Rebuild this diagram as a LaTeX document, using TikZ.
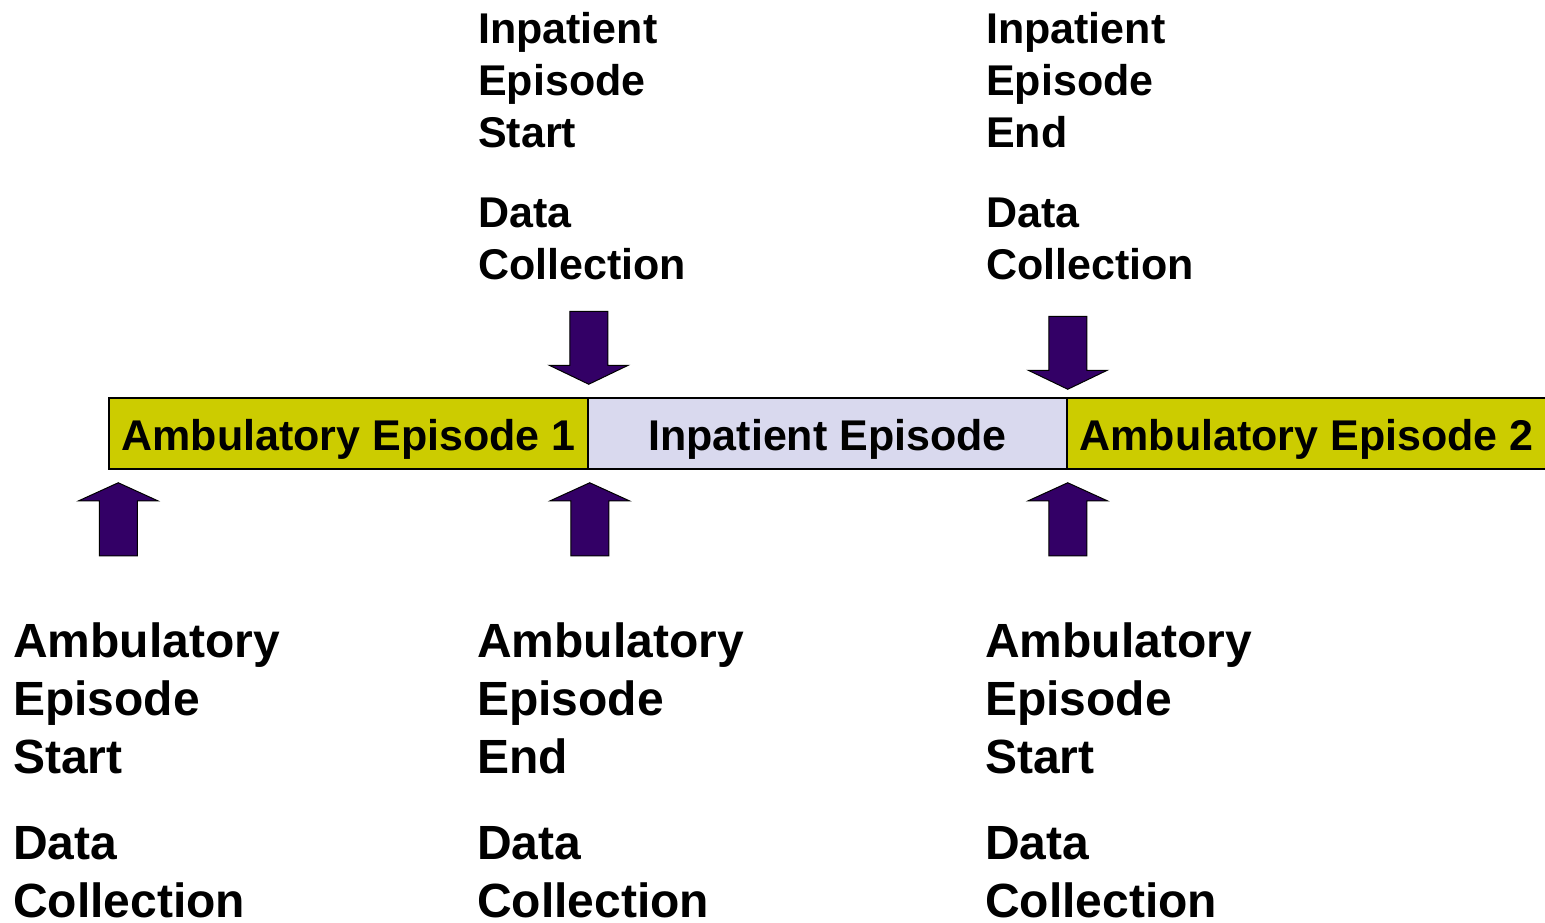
\documentclass[tikz,border=0pt]{standalone}
\usepackage{fontspec}
\setmainfont{Liberation Sans}
\usetikzlibrary{calc}
\definecolor{ambyellow}{RGB}{204,204,0}
\definecolor{inplav}{RGB}{217,217,238}
\definecolor{arrowpurple}{RGB}{51,0,102}
\tikzset{
  episode/.style={draw=black, line width=1.5pt, minimum width=479pt, minimum height=71pt,
    inner sep=0pt, text height=33pt, text depth=0pt, font=\fontsize{43}{52}\selectfont\bfseries},
  blockarrow/.style={fill=arrowpurple, draw=black, line width=1pt, line join=miter},
  downarrow/.pic={\path[blockarrow] (0,0) -- (-39.5,-19) -- (-19,-19) -- (-19,-73) -- (19,-73) -- (19,-19) -- (39.5,-19) -- cycle;},
  uparrow/.pic={\path[blockarrow] (0,0) -- (-39.5,18) -- (-19,18) -- (-19,73) -- (19,73) -- (19,18) -- (39.5,18) -- cycle;},
  toplabel/.style={anchor=north west, inner sep=0pt, align=left, font=\fontsize{43}{52}\selectfont\bfseries},
  botlabel/.style={anchor=north west, inner sep=0pt, align=left, font=\fontsize{48}{58}\selectfont\bfseries}
}
\begin{document}
\begin{tikzpicture}[x=1pt, y=-1pt]
\useasboundingbox (0,0) rectangle (1545,922);
% bar
\node[episode, fill=ambyellow] (a1) at (348.5,433.5) {Ambulatory Episode 1};
\node[episode, fill=inplav] (ip) at (827.5,433.5) {Inpatient Episode};
\node[episode, fill=ambyellow] (a2) at (1306.5,433.5) {Ambulatory Episode 2};
% arrow tips
\coordinate (d1) at ($(a1.north east)+(0,-13)$);
\coordinate (d2) at ($(ip.north east)+(0,-8)$);
\coordinate (u1) at ($(a1.south west)+(10,13)$);
\coordinate (u2) at ($(a1.south east)+(1,13)$);
\coordinate (u3) at ($(ip.south east)+(0,13)$);
\pic at (d1) {downarrow};
\pic at (d2) {downarrow};
\pic at (u1) {uparrow};
\pic at (u2) {uparrow};
\pic at (u3) {uparrow};
% labels
\node[toplabel] (t1) at (478,12) {Inpatient\\Episode\\Start\\[28pt]Data\\Collection};
\node[toplabel] (t2) at (986,12) {Inpatient\\Episode\\End\\[28pt]Data\\Collection};
\node[botlabel] (b1) at (13,623) {Ambulatory\\Episode\\Start\\[28pt]Data\\Collection};
\node[botlabel] (b2) at (477,623) {Ambulatory\\Episode\\End\\[28pt]Data\\Collection};
\node[botlabel] (b3) at (985,623) {Ambulatory\\Episode\\Start\\[28pt]Data\\Collection};
\end{tikzpicture}
\end{document}
